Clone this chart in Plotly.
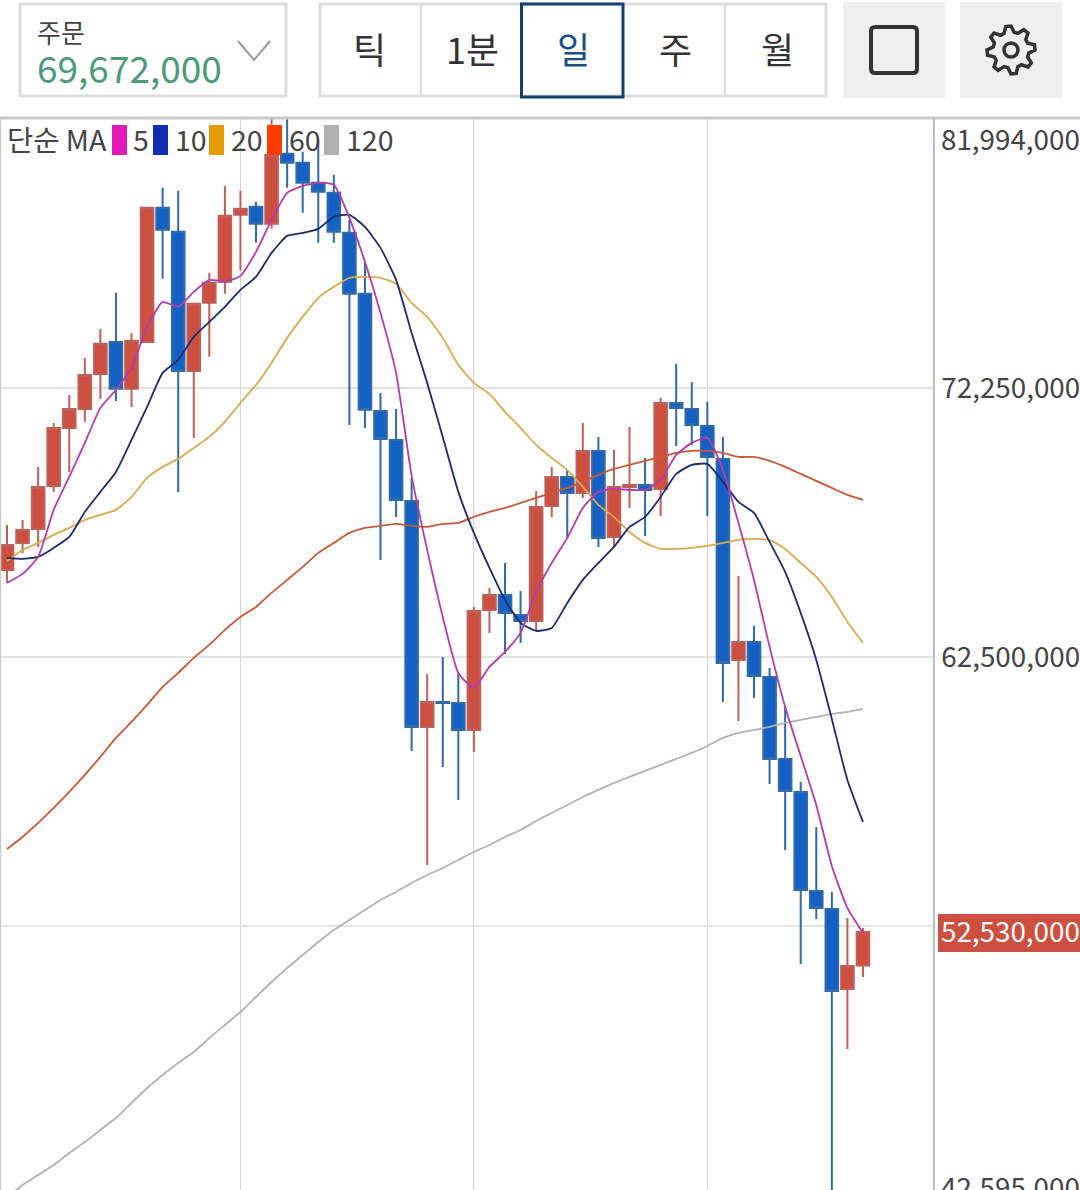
"""Daily candlestick screen with simple moving averages"""

import math

import plotly.graph_objects as go

# Prices are in thousands of won
opens = [65653, 66632, 67139, 68698, 70800, 71489, 72757, 73917, 72214, 73917, 78774, 77904, 72866, 75331,
         76092, 78520, 78810, 78194, 80731, 80405, 79680, 79318, 77868, 75657, 71416, 70365, 68154, 59963,
         60869, 60833, 59854, 64204, 64747, 64022, 63805, 67973, 69024, 68444, 69967, 66849, 68662, 68734,
         68589, 71706, 71489, 70873, 69677, 62391, 63044, 61775, 58803, 57607, 54019, 53366, 50467, 51318]
highs = [67284, 67466, 69387, 70981, 71996, 73337, 74388, 75693, 74243, 78774, 79499, 79390, 75295, 76418,
         79571, 79390, 78992, 82072, 82036, 80804, 81166, 79970, 78339, 76781, 72069, 71489, 68988, 61884,
         62500, 61920, 64312, 65001, 65907, 64892, 68517, 69387, 69278, 70981, 70474, 70003, 70836, 69713,
         71888, 73120, 72467, 71743, 70474, 65436, 63624, 62101, 60688, 57969, 56338, 53983, 53040, 52678]
lows = [65182, 66270, 66487, 68481, 69205, 71018, 71851, 71779, 71561, 73917, 76201, 68481, 70438, 73374,
        75657, 76491, 77505, 78013, 79499, 78593, 77505, 77505, 70909, 70800, 66016, 67574, 59093, 54961,
        58513, 57317, 59057, 63370, 62609, 63008, 63479, 67574, 66813, 68263, 66487, 66487, 67901, 66886,
        67611, 70148, 70184, 67611, 60869, 60180, 61014, 57897, 55505, 51373, 53004, 42595, 48292, 50902]
closes = [66560, 67103, 68662, 70800, 71489, 72721, 73845, 72214, 73954, 78774, 77977, 72866, 75295, 76056,
          78484, 78738, 78194, 80695, 80405, 79680, 79354, 77904, 75657, 71453, 70402, 68191, 59963, 60869,
          60833, 59854, 64167, 64747, 64095, 63805, 67937, 69024, 68444, 69967, 66813, 68662, 68734, 68553,
          71706, 71525, 70909, 69749, 62283, 63044, 61811, 58803, 57643, 54055, 53403, 50394, 51300, 52530]

ma5 = [65182, 65508, 66125, 67828, 69024, 70257, 71525, 72178, 72975, 74461, 75367, 75186, 75730, 76164,
       76092, 76309, 77179, 78339, 79318, 79571, 79680, 79608, 78412, 76817, 74968, 72794, 69060, 66378,
       63950, 61920, 61376, 62138, 62681, 63370, 64856, 65907, 66813, 67901, 68481, 68589, 68553, 68553,
       68915, 69822, 70257, 70438, 69278, 67357, 65291, 62863, 60688, 58912, 57136, 54925, 53403, 52496]
ma10 = [66088, 66052, 66125, 66451, 66849, 67756, 68481, 69205, 70365, 71561, 72794, 73265, 74098, 74642,
        75186, 75802, 76273, 77143, 77759, 77868, 78013, 78448, 78520, 78085, 77324, 76164, 74243, 72431,
        70474, 68481, 66994, 65726, 64566, 63732, 63442, 63551, 64457, 65291, 65907, 66487, 67212, 67574,
        68299, 69133, 69459, 69495, 68843, 68118, 67719, 66668, 65581, 64095, 62391, 60253, 58042, 56520]
ma20 = [65980, 66378, 66632, 66922, 67176, 67466, 67647, 67828, 68299, 68988, 69387, 69677, 70075, 70474,
        71018, 71706, 72359, 73156, 74062, 74823, 75512, 75911, 76237, 76273, 76237, 76019, 75331, 74823,
        74062, 73084, 72431, 72033, 71380, 70800, 70184, 69713, 69278, 68662, 68009, 67574, 67031, 66632,
        66415, 66415, 66451, 66523, 66632, 66741, 66777, 66741, 66415, 65907, 65400, 64675, 63769, 63008]
ma60 = [55541, 55976, 56483, 57027, 57607, 58223, 58876, 59564, 60144, 60760, 61413, 61920, 62464, 62935,
        63479, 63950, 64312, 64820, 65291, 65762, 66270, 66632, 66994, 67176, 67248, 67321, 67248, 67212,
        67321, 67357, 67574, 67756, 67901, 68082, 68263, 68444, 68625, 68843, 69097, 69314, 69459, 69604,
        69749, 69894, 69967, 69967, 69894, 69749, 69749, 69604, 69387, 69133, 68879, 68625, 68372, 68191]
ma120 = [42928, 43363, 43725, 44088, 44523, 44921, 45356, 45791, 46335, 46878, 47350, 47785, 48183, 48691,
         49162, 49633, 50177, 50720, 51228, 51699, 52170, 52605, 52968, 53330, 53693, 53983, 54309, 54599,
         54852, 55142, 55432, 55686, 55976, 56230, 56556, 56846, 57136, 57426, 57680, 57933, 58151, 58368,
         58586, 58803, 59021, 59274, 59564, 59745, 59854, 59963, 60108, 60217, 60325, 60434, 60507, 60615]

price_ticks = [72250000, 62500000, 52750000, 43000000]
price_tick_labels = ["72,250,000", "62,500,000", "", ""]
period_labels = ["틱", "1분", "일", "주", "월"]
legend_periods = ["5", "10", "20", "60", "120"]

WIDTH = 1080
HEIGHT = 1190
PLOT_RIGHT = 933
PLOT_TOP = 119
FONT = "Noto Sans CJK KR"
TEXT_COLOR = "#444444"
RED = "#cd4f40"
BLUE = "#1560c4"
LINE_COLORS = ["#b53bab", "#1c2a6e", "#d9aa4e", "#c9583a", "#b2b2b2"]
SWATCH_COLORS = ["#e01ab8", "#0f2fb0", "#e89b00", "#ff3d00", "#b0b0b0"]


def px(x):
    return x / WIDTH


def py(y):
    return 1 - y / HEIGHT


def to_won(values):
    return [value * 1000 for value in values]


def label(fig, x, y, text, size=27.8, color=TEXT_COLOR, anchor="left"):
    fig.add_annotation(x=px(x), y=py(y), xref="paper", yref="paper", text=text, showarrow=False,
                       xanchor=anchor, yanchor="middle", borderpad=0,
                       font=dict(family=FONT, size=size, color=color))


def box(fig, x0, y0, x1, y1, fill=None, line=None, width=0):
    fig.add_shape(type="rect", xref="paper", yref="paper", layer="above",
                  x0=px(x0), y0=py(y0), x1=px(x1), y1=py(y1),
                  fillcolor=fill if fill else "rgba(0,0,0,0)",
                  line=dict(color=line if line else "rgba(0,0,0,0)", width=width))


def gear_path(cx, cy, outer, inner, teeth=8):
    points = []
    for tooth in range(teeth):
        start = 2 * math.pi * tooth / teeth - math.pi / 8
        step = 2 * math.pi / teeth
        for share, radius in ((0.0, inner), (0.22, outer), (0.5, outer), (0.72, inner)):
            angle = start + step * share
            points.append((px(cx + radius * math.cos(angle)), py(cy + radius * math.sin(angle))))
    return "M " + " L ".join(f"{x:.5f},{y:.5f}" for x, y in points) + " Z"


days = list(range(len(closes)))
fig = go.Figure()

for values, color in zip([ma120, ma60, ma20, ma10, ma5], LINE_COLORS[::-1]):
    fig.add_trace(go.Scatter(x=days, y=to_won(values), mode="lines", showlegend=False, hoverinfo="skip",
                             line=dict(color=color, width=1.8, shape="spline", smoothing=0.5)))

fig.add_trace(go.Candlestick(
    x=days,
    open=to_won(opens),
    high=to_won(highs),
    low=to_won(lows),
    close=to_won(closes),
    whiskerwidth=0,
    showlegend=False,
    increasing=dict(fillcolor=RED, line=dict(color="#bf6058", width=2)),
    decreasing=dict(fillcolor=BLUE, line=dict(color="#2f6ba6", width=2)),
))

fig.update_layout(
    width=WIDTH,
    height=HEIGHT,
    margin=dict(l=0, r=0, t=0, b=0),
    paper_bgcolor="white",
    plot_bgcolor="white",
    boxgap=0.19,
    boxgroupgap=0,
    font=dict(family=FONT, color=TEXT_COLOR),
    xaxis=dict(domain=[0, PLOT_RIGHT / WIDTH], range=[-0.45, 59.5], rangeslider=dict(visible=False),
               tickvals=[15, 30, 45], showticklabels=False, ticks="", showgrid=True, gridcolor="#d4d4d4",
               gridwidth=1, zeroline=False),
    yaxis=dict(domain=[0, 1 - PLOT_TOP / HEIGHT], range=[43182000, 81994000], side="right",
               tickvals=price_ticks, ticktext=price_tick_labels, ticks="", ticklabelstandoff=1,
               tickfont=dict(family=FONT, size=27.8, color=TEXT_COLOR), showgrid=True, gridcolor="#e2e2e2",
               gridwidth=1.5, zeroline=False, showline=True, linecolor="#bdbdbd", linewidth=1.5),
)

# Axis labels that do not sit on a gridline
label(fig, 940, 138, "81,994,000")
label(fig, 940, 1185.5, "42,595,000")
box(fig, 938, 914, 1080, 952, fill=RED)
label(fig, 940, 930, "52,530,000", color="white")

# Frame of the chart
fig.add_shape(type="line", xref="paper", yref="paper", layer="above", x0=0, x1=1, y0=py(118), y1=py(118),
              line=dict(color="#c8c8c8", width=3))
fig.add_shape(type="line", xref="paper", yref="paper", layer="above", x0=px(0.5), x1=px(0.5), y0=py(118), y1=0,
              line=dict(color="#cccccc", width=1.5))

# Moving average legend
label(fig, 6, 138, "단순 MA", size=28.5)
for swatch_x, text_x, period, color in zip([112, 153, 209, 267, 324], [132, 174, 230, 288, 345],
                                           legend_periods, SWATCH_COLORS):
    box(fig, swatch_x, 125, swatch_x + 15, 155, fill=color)
    label(fig, text_x, 138, period, size=28.5)

# Order selector
box(fig, 20, 4, 286, 96, line="#dddddd", width=3)
label(fig, 36, 31, "주문", size=26)
label(fig, 36, 67, "69,672,000", size=37, color="#4b9b7a")
fig.add_shape(type="path", xref="paper", yref="paper", layer="above",
              path=f"M {px(238)},{py(41)} L {px(254)},{py(60)} L {px(270)},{py(41)}",
              line=dict(color="#9a9a9a", width=2))

# Period buttons
box(fig, 320, 4, 826, 96, line="#dddddd", width=3)
for separator_x in [421, 725]:
    fig.add_shape(type="line", xref="paper", yref="paper", layer="above", x0=px(separator_x), x1=px(separator_x),
                  y0=py(4), y1=py(96), line=dict(color="#dddddd", width=2.5))
box(fig, 521.5, 4, 623, 97, line="#16406f", width=3)
for center_x, text, color in zip([369, 472, 573, 675, 777], period_labels,
                                 ["#333333", "#333333", "#1b4f86", "#333333", "#333333"]):
    label(fig, center_x, 48, text, size=36, color=color, anchor="center")

# Screen and settings buttons
box(fig, 843, 2, 945, 98, fill="#eeeeee")
fig.add_shape(type="path", xref="paper", yref="paper", layer="above",
              path=f"M {px(875)},{py(27)} L {px(913)},{py(27)} Q {px(917)},{py(27)} {px(917)},{py(31)} "
                   f"L {px(917)},{py(69)} Q {px(917)},{py(73)} {px(913)},{py(73)} L {px(875)},{py(73)} "
                   f"Q {px(871)},{py(73)} {px(871)},{py(69)} L {px(871)},{py(31)} Q {px(871)},{py(27)} {px(875)},{py(27)} Z",
              line=dict(color="#333333", width=4))
box(fig, 960, 2, 1062, 98, fill="#eeeeee")
fig.add_shape(type="path", xref="paper", yref="paper", layer="above", path=gear_path(1011, 50, 24, 18),
              line=dict(color="#333333", width=3.5))
fig.add_shape(type="circle", xref="paper", yref="paper", layer="above",
              x0=px(1004), x1=px(1018), y0=py(43), y1=py(57), line=dict(color="#333333", width=3.5))

fig.write_html("out.html", config=dict(displayModeBar=False), post_script="document.body.style.margin = '0';")
